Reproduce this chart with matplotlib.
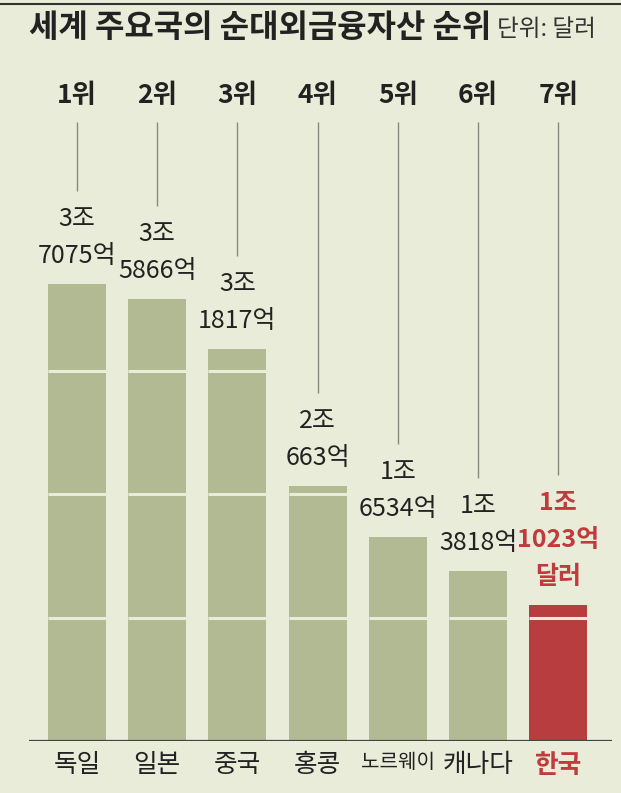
import numpy as np
import matplotlib.pyplot as plt
from matplotlib.lines import Line2D

plt.rcParams['font.family'] = ['Noto Sans CJK KR', 'DejaVu Sans']

countries = ['독일', '일본', '중국', '홍콩', '노르웨이', '캐나다', '한국']
ranks = ['1위', '2위', '3위', '4위', '5위', '6위', '7위']
values = [3.7075, 3.5866, 3.1817, 2.0663, 1.6534, 1.3818, 1.1023]  # 조 달러
value_labels = [['3조', '7075억'], ['3조', '5866억'], ['3조', '1817억'],
                ['2조', '663억'], ['1조', '6534억'], ['1조', '3818억'],
                ['1조', '1023억', '달러']]
grid_levels = [1, 2, 3]

bg = '#e9ecd8'
green = '#b2ba94'
red = '#b83d3e'
red_text = '#c13a3c'
dark = '#222222'

W, H = 621, 793
base_px = 741          # baseline from top, pixels
px_unit = 123.3        # pixels per 1조
x0_px, dx_px = 77, 80.2

fig = plt.figure(figsize=(W / 100, H / 100), dpi=100, facecolor=bg)
ax = fig.add_axes([0, (H - base_px) / H, 1, base_px / H])
ax.set_facecolor(bg)
ax.set_ylim(0, base_px / px_unit)
ax.set_xlim(-x0_px / dx_px, (W - x0_px) / dx_px)
for s in ax.spines.values():
    s.set_visible(False)

def dy(px):
    return px / px_unit

x = np.arange(len(countries))
colors = [green] * (len(countries) - 1) + [red]
bw = 58 / dx_px
ax.bar(x, values, width=bw, color=colors, zorder=2)

# thin gaps across the bars
for i, v in enumerate(values):
    for g in grid_levels:
        if v > g:
            ax.hlines(g, i - bw / 2, i + bw / 2, color=bg, lw=2.2, zorder=3)

# baseline
ax.hlines(0, (29 - x0_px) / dx_px, (612 - x0_px) / dx_px, color='#444444', lw=1.6, zorder=4)

# rank labels and leader lines
rank_y = dy(base_px - 95)
line_top = dy(base_px - 122)
for i, (r, v) in enumerate(zip(ranks, values)):
    ax.text(i, rank_y, r, ha='center', va='center', fontsize=19, fontweight='bold', color=dark)
    n = len(value_labels[i])
    first_center = 28 + 37 * (n - 1)
    ax.vlines(i, v + dy(first_center + 28), line_top, color='#8a8a80', lw=1.0, zorder=1)

# value labels
for i, (v, lines) in enumerate(zip(values, value_labels)):
    is_kr = i == len(values) - 1
    for j, t in enumerate(reversed(lines)):
        ax.annotate(t, (i, v), xytext=(0, (28 + 37 * j) * 0.72), textcoords='offset points',
                    ha='center', va='center', fontsize=18,
                    color=red_text if is_kr else dark,
                    fontweight='bold' if is_kr else 'normal')

# country labels
ax.set_xticks(x)
ax.set_xticklabels(countries, fontsize=18.5, color=dark)
ax.tick_params(axis='x', length=0, pad=8)
ax.set_yticks([])
for i, lab in enumerate(ax.get_xticklabels()):
    if countries[i] == '노르웨이':
        lab.set_fontsize(14.5)
    if countries[i] == '한국':
        lab.set_color(red_text)
        lab.set_fontweight('bold')

# title
fig.text(29 / W, 1 - 28 / H, '세계 주요국의 순대외금융자산 순위', ha='left', va='center',
         fontsize=23, fontweight='bold', color=dark)
fig.text(497 / W, 1 - 30 / H, '단위: 달러', ha='left', va='center', fontsize=17, color='#333333')
fig.add_artist(Line2D([0, 1], [1 - 4 / H, 1 - 4 / H], color='#333333', lw=1.5))

fig.savefig('out.png', dpi=100, facecolor=bg)
